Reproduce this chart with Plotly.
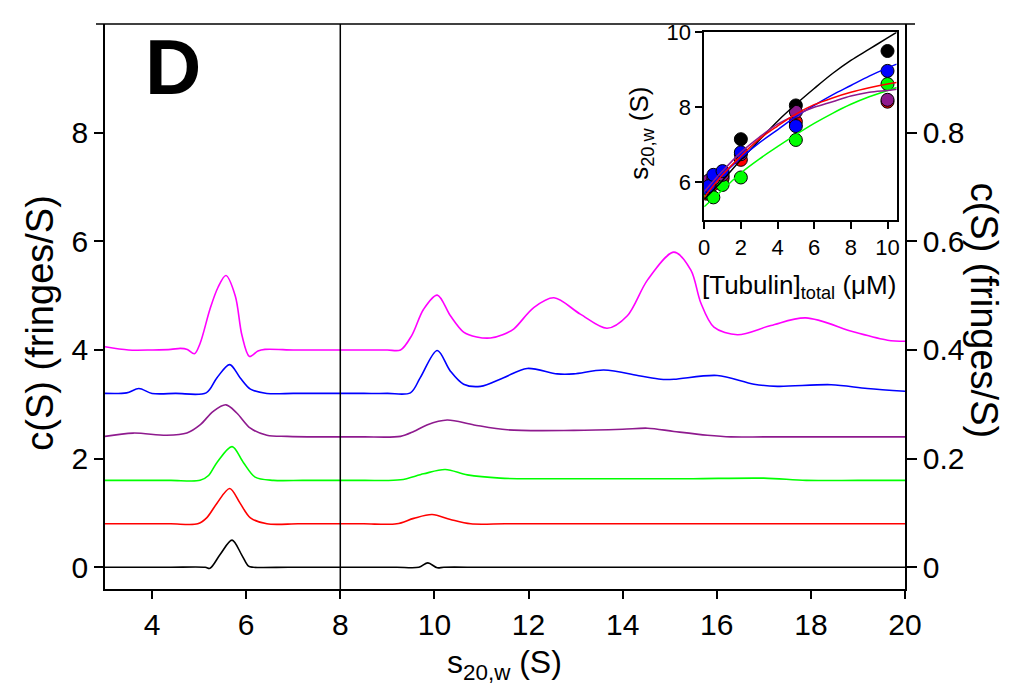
import plotly.graph_objects as go

# ---------------- main c(S) distributions (offset traces) ----------------
mag_x = [3.0, 3.5, 4.0, 4.4, 4.6, 4.75, 4.9, 5.02, 5.23, 5.4, 5.57, 5.77, 5.91, 6.07, 6.25, 6.4, 7.0, 7.5, 8.0, 8.5,
         9.0, 9.28, 9.52, 9.77, 10.06, 10.34, 10.62, 10.9, 11.19, 11.45, 11.69, 12.11, 12.54, 13.1, 13.67, 14.1,
         14.53, 15.09, 15.45, 15.66, 15.94, 16.44, 17.15, 17.89, 18.92, 19.63, 20.0]
mag_y = [4.06, 4.0, 4.0, 4.01, 4.03, 4.01, 3.93, 4.12, 4.75, 5.15, 5.37, 4.99, 4.27, 3.88, 3.98, 4.01, 4.0, 4.0, 4.0, 4.0,
         4.0, 4.0, 4.27, 4.75, 5.01, 4.63, 4.33, 4.24, 4.22, 4.28, 4.39, 4.78, 4.96, 4.66, 4.40, 4.63,
         5.29, 5.80, 5.47, 4.87, 4.42, 4.28, 4.45, 4.59, 4.33, 4.18, 4.16]

blue_x = [3.0, 3.46, 3.72, 4.0, 4.5, 5.15, 5.38, 5.65, 5.87, 6.09, 6.44, 7.0, 7.5, 8.0, 8.5, 9.0, 9.49, 9.70, 10.06,
          10.34, 10.62, 10.98, 11.47, 11.97, 12.61, 12.96, 13.6, 14.38, 14.81, 15.09, 16.01, 16.79, 17.29, 18.43,
          19.2, 20.0]
blue_y = [3.20, 3.21, 3.29, 3.20, 3.20, 3.21, 3.49, 3.73, 3.49, 3.28, 3.20, 3.20, 3.20, 3.20, 3.20, 3.20, 3.21, 3.49,
          3.99, 3.61, 3.37, 3.33, 3.49, 3.66, 3.56, 3.56, 3.63, 3.52, 3.46, 3.46, 3.53, 3.37, 3.33, 3.36,
          3.29, 3.24]

purple_x = [3.0, 3.6, 4.31, 4.74, 5.02, 5.30, 5.57, 5.80, 6.09, 6.44, 6.87, 7.5, 8.0, 8.5, 9.28, 9.56, 9.84, 10.27,
            10.84, 11.55, 12.96, 14.0, 14.53, 15.09, 15.8, 16.3, 17.0, 18.0, 19.0, 20.0]
purple_y = [2.41, 2.47, 2.43, 2.47, 2.62, 2.87, 2.99, 2.84, 2.56, 2.43, 2.41, 2.40, 2.40, 2.40, 2.41, 2.50, 2.62, 2.71,
            2.62, 2.53, 2.52, 2.54, 2.56, 2.50, 2.43, 2.40, 2.40, 2.40, 2.40, 2.40]

green_x = [3.0, 3.7, 4.4, 5.02, 5.20, 5.38, 5.70, 5.94, 6.19, 6.58, 7.2, 7.8, 8.5, 9.28, 9.77, 10.23, 10.7, 11.4, 12.2,
           13.0, 14.38, 15.5, 17.0, 17.9, 19.0, 20.0]
green_y = [1.60, 1.60, 1.60, 1.60, 1.69, 1.93, 2.22, 1.93, 1.66, 1.60, 1.60, 1.60, 1.60, 1.61, 1.72, 1.80, 1.70, 1.64,
           1.63, 1.63, 1.63, 1.63, 1.64, 1.60, 1.60, 1.60]

red_x = [3.0, 3.7, 4.4, 4.97, 5.16, 5.38, 5.65, 5.87, 6.09, 6.44, 7.1, 7.8, 8.5, 9.2, 9.56, 9.95, 10.34, 10.77, 11.5,
         12.5, 14.0, 15.5, 17.0, 18.5, 20.0]
red_y = [0.80, 0.80, 0.80, 0.80, 0.91, 1.18, 1.45, 1.18, 0.91, 0.80, 0.80, 0.80, 0.80, 0.80, 0.90, 0.97, 0.88, 0.80, 0.80,
         0.80, 0.80, 0.80, 0.80, 0.80, 0.80]

black_x = [3.0, 3.7, 4.4, 5.13, 5.23, 5.45, 5.70, 5.91, 6.05, 6.15, 6.9, 7.7, 8.5, 9.2, 9.67, 9.86, 10.06, 10.2, 11.0,
           12.5, 14.0, 15.5, 17.0, 18.5, 20.0]
black_y = [0.0, 0.0, 0.0, 0.0, -0.02, 0.24, 0.50, 0.22, 0.02, 0.0, 0.0, 0.0, 0.0, 0.0, 0.0, 0.08, -0.01, 0.0, 0.0,
           0.0, 0.0, 0.0, 0.0, 0.0, 0.0]

x_ticks = [4, 6, 8, 10, 12, 14, 16, 18, 20]
yl_ticks = [0, 2, 4, 6, 8]
yr_ticks = [0, 0.2, 0.4, 0.6, 0.8]
yr_labels = ["0", "0.2", "0.4", "0.6", "0.8"]

# ---------------- inset: s20,w vs [tubulin] ----------------
conc = [0.1, 0.25, 0.5, 1, 2, 5, 10]
s_black = [5.85, 5.95, 6.05, 6.15, 7.15, 8.05, 9.5]
s_red = [5.7, 5.8, 5.95, 6.1, 6.6, 7.62, 8.15]
s_green = [5.75, 5.72, 5.6, 5.93, 6.13, 7.13, 8.62]
s_purple = [6.0, 6.05, 6.1, 6.2, 6.75, 7.88, 8.2]
s_blue = [5.85, 5.9, 6.2, 6.3, 6.8, 7.5, 8.97]

fit_x = [0, 1, 2, 3, 4, 5, 6, 7, 8, 9, 10, 10.5]
fit_black = [5.55, 6.05, 6.6, 7.12, 7.63, 8.08, 8.5, 8.9, 9.25, 9.55, 9.85, 10.0]
fit_blue = [5.75, 6.2, 6.65, 7.05, 7.4, 7.75, 8.05, 8.33, 8.58, 8.83, 9.05, 9.15]
fit_red = [5.6, 6.2, 6.7, 7.15, 7.5, 7.82, 8.07, 8.25, 8.4, 8.52, 8.62, 8.66]
fit_purple = [5.75, 6.3, 6.8, 7.2, 7.55, 7.8, 8.0, 8.15, 8.3, 8.4, 8.45, 8.48]
fit_green = [5.35, 5.8, 6.25, 6.62, 6.95, 7.27, 7.57, 7.84, 8.08, 8.28, 8.45, 8.53]

inset_x_ticks = [0, 2, 4, 6, 8, 10]
inset_y_ticks = [6, 8, 10]

BLACK, RED, GREEN, PURPLE, BLUE, MAG = "#000000", "#ff0000", "#00ff00", "#8e1a8e", "#0000ff", "#ff00ff"
FONT = "Arial, 'Liberation Sans', sans-serif"

fig = go.Figure()

for xs, ys, c in [(black_x, black_y, BLACK), (red_x, red_y, RED), (green_x, green_y, GREEN),
                  (purple_x, purple_y, PURPLE), (blue_x, blue_y, BLUE), (mag_x, mag_y, MAG)]:
    fig.add_trace(go.Scatter(x=xs, y=ys, mode="lines", line=dict(color=c, width=1.6, shape="spline", smoothing=0.9),
                             showlegend=False, xaxis="x", yaxis="y"))

# invisible trace so the right axis is drawn
fig.add_trace(go.Scatter(x=[None], y=[None], xaxis="x", yaxis="y2", showlegend=False))

for ys, c in [(s_black, BLACK), (s_red, RED), (s_green, GREEN), (s_purple, PURPLE), (s_blue, BLUE)]:
    fig.add_trace(go.Scatter(x=conc, y=ys, mode="markers", xaxis="x3", yaxis="y3", showlegend=False,
                             marker=dict(color=c, size=13, line=dict(color="black", width=1))))
for ys, c in [(fit_black, BLACK), (fit_green, GREEN), (fit_blue, BLUE), (fit_purple, PURPLE), (fit_red, RED)]:
    fig.add_trace(go.Scatter(x=fit_x, y=ys, mode="lines", xaxis="x3", yaxis="y3", showlegend=False,
                             line=dict(color=c, width=1.5, shape="spline")))

axis_common = dict(showgrid=False, zeroline=False, showline=True, linecolor="black", linewidth=1.5,
                   ticks="outside", tickcolor="black", tickwidth=1.5)

fig.update_layout(
    width=1009, height=691,
    margin=dict(l=105, r=104, t=13, b=102),
    paper_bgcolor="white", plot_bgcolor="white",
    font=dict(family=FONT, color="black"),
    xaxis=dict(**axis_common, range=[3, 20], tickvals=x_ticks, ticklen=8, tickfont=dict(size=30),
               domain=[0, 1], anchor="y"),
    yaxis=dict(**axis_common, range=[-0.4, 10], tickvals=yl_ticks, ticklen=9, tickfont=dict(size=30),
               domain=[0, 1], anchor="x"),
    yaxis2=dict(**axis_common, range=[-0.04, 1.0], tickvals=yr_ticks, ticktext=yr_labels, ticklen=10,
                tickfont=dict(size=30), overlaying="y", side="right", anchor="x"),
    xaxis3=dict(**axis_common, mirror=True, range=[0, 10.5], tickvals=inset_x_ticks, ticklen=7,
                tickfont=dict(size=22), domain=[0.749, 0.9896], anchor="y3"),
    yaxis3=dict(**axis_common, mirror=True, range=[5, 10], tickvals=inset_y_ticks, ticklen=7,
                tickfont=dict(size=22), domain=[0.6533, 0.9854], anchor="x3"),
    shapes=[
        dict(type="line", xref="x", yref="paper", x0=8, x1=8, y0=0, y1=1, line=dict(color="black", width=1.5)),
        dict(type="line", xref="paper", yref="paper", x0=-0.01125, x1=1.0125, y0=1, y1=1,
             line=dict(color="black", width=1.5)),
    ],
    annotations=[
        dict(text="<b>D</b>", x=0.085, y=0.924, xref="paper", yref="paper", showarrow=False,
             font=dict(size=78, family=FONT), xanchor="center", yanchor="middle"),
        dict(text="s<sub>20,w</sub> (S)", x=0.499, y=-0.133, xref="paper", yref="paper", showarrow=False,
             font=dict(size=32), xanchor="center", yanchor="middle"),
        dict(text="c(S) (fringes/S)", x=-0.081, y=0.47, xref="paper", yref="paper", showarrow=False,
             font=dict(size=38), textangle=-90, xanchor="center", yanchor="middle"),
        dict(text="c(S) (fringes/S)", x=1.0985, y=0.493, xref="paper", yref="paper", showarrow=False,
             font=dict(size=38), textangle=90, xanchor="center", yanchor="middle"),
        dict(text="s<sub>20,w</sub> (S)", x=0.67, y=0.8056, xref="paper", yref="paper", showarrow=False,
             font=dict(size=26), textangle=-90, xanchor="center", yanchor="middle"),
        dict(text="[Tubulin]<sub>total</sub> (\u03bcM)", x=0.868, y=0.536, xref="paper", yref="paper",
             showarrow=False, font=dict(size=26), xanchor="center", yanchor="middle"),
    ],
)

fig.write_html("out.html")
